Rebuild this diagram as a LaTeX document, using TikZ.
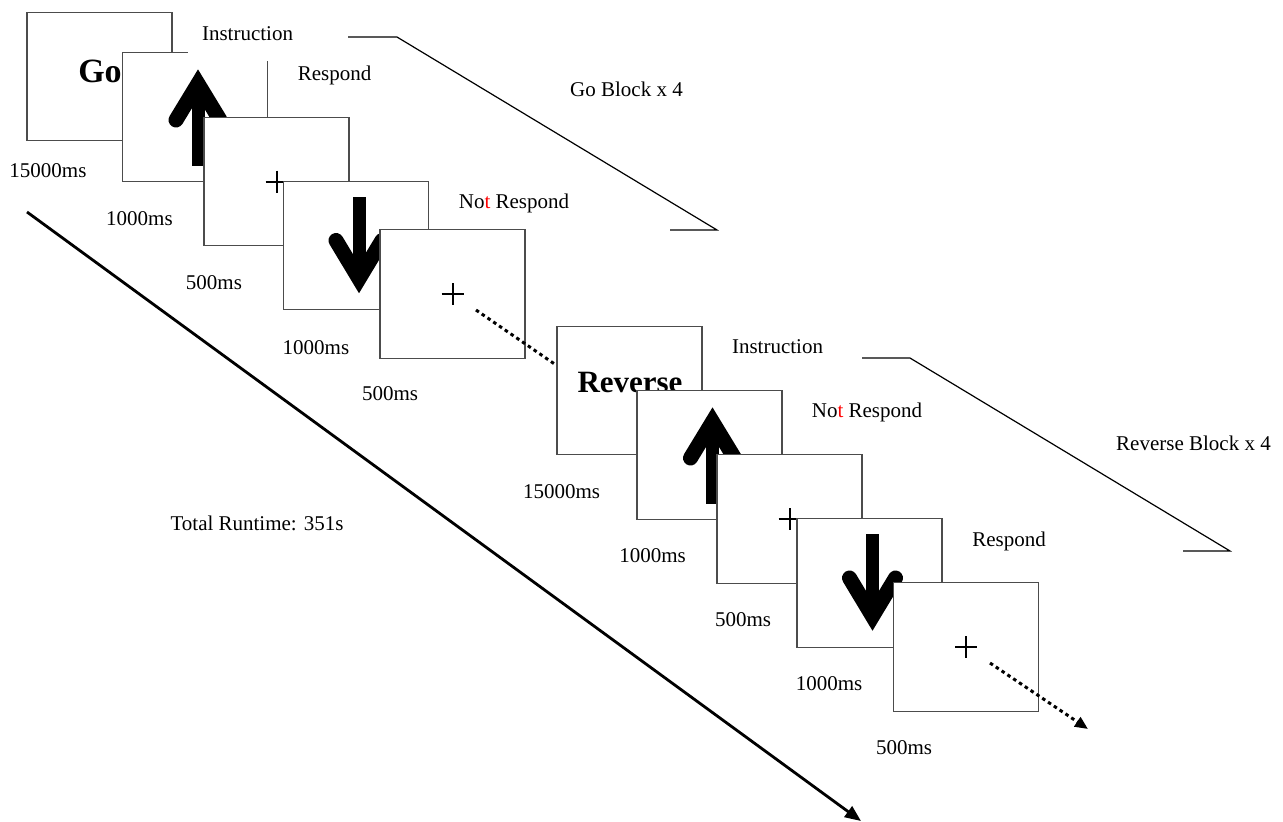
\documentclass[tikz,border=0pt]{standalone}
\usepackage{fontspec}
\setmainfont{Liberation Serif}
\usetikzlibrary{arrows.meta,calc}
\tikzset{
  screen/.style={draw=black!70, line width=1.2pt, fill=white, minimum width=145pt, minimum height=128.5pt, inner sep=0pt},
  lbl/.style={font=\fontsize{21}{25}\selectfont, inner sep=0pt, text height=14pt, text depth=0pt},
  bigword/.style={font=\fontsize{#1}{#1}\selectfont\bfseries, inner sep=0pt, anchor=base},
  bracket/.style={draw=black, line width=1.2pt},
  dotline/.style={line width=3pt, dash pattern=on 3.5pt off 3.5pt},
  crossline/.style={line width=2pt},
  arrowarm/.style={line width=15pt, line cap=round, line join=miter},
  timeline/.style={line width=2.8pt, -{Triangle[length=16pt,width=13pt]}},
}
\newcommand{\UpArr}[1]{%
  \begin{scope}[shift={(#1.center)}]
    \fill (-3.5,-30) rectangle (9.5,49);
    \draw[arrowarm] (-19,3) -- (3,-33.2) -- (25,3);
  \end{scope}}
\newcommand{\DnArr}[1]{%
  \begin{scope}[shift={(#1.center)}]
    \fill (-3.5,-49) rectangle (9.5,30);
    \draw[arrowarm] (-20,-5) -- (3,33.2) -- (26,-5);
  \end{scope}}
\newcommand{\FixCross}[1]{%
  \begin{scope}[shift={(#1.center)}]
    \draw[crossline] (-11,0) -- (11,0) (0,-11) -- (0,11);
  \end{scope}}
\begin{document}
\begin{tikzpicture}[x=1pt,y=-1pt]
\useasboundingbox (0,0) rectangle (1283,822);
% timeline
\coordinate (ta) at (27,212);
\coordinate (tb) at (861,821);
\draw[timeline] (ta) -- (tb);
% Go block
\node[screen] (s1) at (99.5,76.5) {};
\node[bigword=34] (go) at (100,82) {Go};
\node[screen] (s2) at (195,117) {};
\UpArr{s2}
\node[screen] (s3) at (276.5,181.5) {};
\FixCross{s3}
\node[screen] (s4) at (356,245.5) {};
\DnArr{s4}
\node[screen] (s5) at (452.5,294) {};
\FixCross{s5}
\coordinate (d1s) at (476,310);
\coordinate (d1e) at (556,365);
\draw[dotline] (d1s) -- (d1e);
% Reverse block
\node[screen] (s6) at (629.5,390.5) {};
\node[bigword=31] (rev) at (630,392) {Reverse};
\node[screen] (s7) at (709.5,455) {};
\UpArr{s7}
\node[screen] (s8) at (789.5,519) {};
\FixCross{s8}
\node[screen] (s9) at (869.5,583) {};
\DnArr{s9}
\node[screen] (s10) at (966,647) {};
\FixCross{s10}
\coordinate (d2s) at (990,663);
\coordinate (d2e) at (1088,729);
\draw[dotline, -{Triangle[length=13pt,width=11pt]}] (d2s) -- (d2e);
% brackets
\coordinate (b1a) at (348,37);
\coordinate (b1b) at (397,37);
\coordinate (b1c) at (717,230);
\coordinate (b1d) at (670,230);
\draw[bracket] (b1a) -- (b1b) -- (b1c) -- (b1d);
\coordinate (b2a) at (862,358);
\coordinate (b2b) at (910,358);
\coordinate (b2c) at (1230,551);
\coordinate (b2d) at (1183,551);
\draw[bracket] (b2a) -- (b2b) -- (b2c) -- (b2d);
% labels
\node[lbl, fill=white, minimum width=119pt, minimum height=56pt] (ins1) at (247.5,33) {Instruction};
\node[lbl] (r1) at (334.5,73) {Respond};
\node[lbl] (t1) at (48,170) {15000ms};
\node[lbl] (t2) at (139.5,218) {1000ms};
\node[lbl] (t3) at (214,282) {500ms};
\node[lbl] (t4) at (316,347) {1000ms};
\node[lbl] (t5) at (390,393) {500ms};
\node[lbl] (nr1) at (514,201) {No\textcolor{red}{t} Respond};
\node[lbl] (gb) at (626.5,89) {Go Block x 4};
\node[lbl] (ins2) at (777.5,346) {Instruction};
\node[lbl] (nr2) at (867,410) {No\textcolor{red}{t} Respond};
\node[lbl] (rb) at (1193.5,443) {Reverse Block x 4};
\node[lbl] (t6) at (561.5,491) {15000ms};
\node[lbl] (t7) at (652.5,555) {1000ms};
\node[lbl] (t8) at (743,619) {500ms};
\node[lbl] (r2) at (1009,539) {Respond};
\node[lbl] (t9) at (829,683) {1000ms};
\node[lbl] (t10) at (904,747) {500ms};
\node[lbl] (tot) at (257,523) {Total Runtime: 351s};
\end{tikzpicture}
\end{document}
